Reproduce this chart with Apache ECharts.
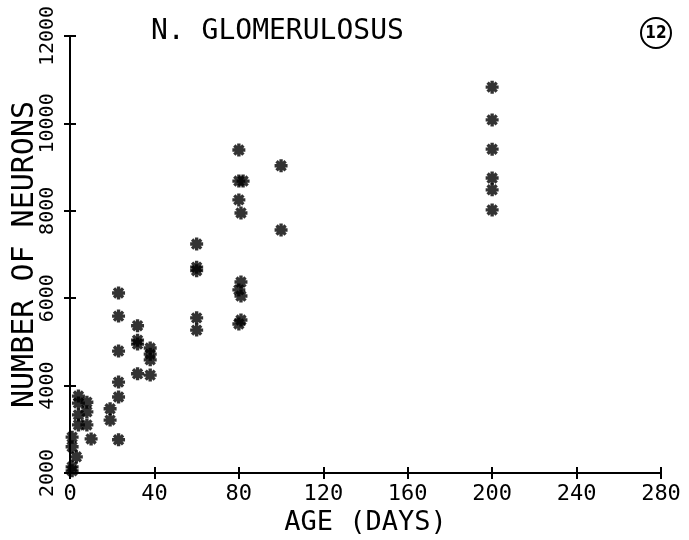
<!DOCTYPE html>
<html>
<head>
<meta charset="utf-8">
<title>N. Glomerulosus</title>
<script src="https://cdn.jsdelivr.net/npm/echarts@6/dist/echarts.min.js"></script>
<style>
    html, body { margin: 0; padding: 0; background: #fff; }
    #neurons_scatter { width: 689px; height: 540px; }
</style>
</head>
<body>
<div id="neurons_scatter"></div>
<script>
// Data
// ------------------------------

var ageDays = [
    1, 1, 1, 1, 3, 4, 4, 4, 4, 8, 8, 8, 10,
    19, 19,
    23, 23, 23, 23, 23, 23,
    32, 32, 32, 32,
    38, 38, 38, 38,
    60, 60, 60, 60, 60,
    80, 80, 82, 80, 81, 81, 80, 81, 81, 80,
    100, 100,
    200, 200, 200, 200, 200, 200
];

var neuronCount = [
    2820, 2600, 2140, 2050, 2370, 3760, 3600, 3330, 3100, 3620, 3400, 3100, 2780,
    3470, 3210,
    6120, 5590, 4790, 4080, 3740, 2760,
    5370, 5040, 4950, 4270,
    4860, 4720, 4590, 4240,
    7240, 6710, 6630, 5550, 5270,
    9390, 8680, 8680, 8250, 7950, 6370, 6190, 6050, 5500, 5410,
    9030, 7560,
    10830, 10080, 9410, 8750, 8480, 8020
];

var xTicks = [0, 40, 80, 120, 160, 200, 240, 280];
var yTicks = [2000, 4000, 6000, 8000, 10000, 12000];


var EchartsNeuronScatter = function() {

    // Asterisk marker, four filled bars
    var asterisk = 'path://M-5,-1.3L5,-1.3L5,1.3L-5,1.3Z' +
        'M-1.3,-5L1.3,-5L1.3,5L-1.3,5Z' +
        'M-2.6,-4.4L4.4,2.6L2.6,4.4L-4.4,-2.6Z' +
        'M-4.4,2.6L2.6,-4.4L4.4,-2.6L-2.6,4.4Z';

    var _scatter = function() {
        if (typeof echarts == 'undefined') {
            console.warn('Warning - echarts.min.js is not loaded.');
            return;
        }

        var scatter_element = document.getElementById('neurons_scatter');
        if (!scatter_element) return;

        var chart = echarts.init(scatter_element);

        var points = ageDays.map(function(a, i) {
            return [a, neuronCount[i]];
        });

        var font = '"DejaVu Sans Mono", monospace';
        var black = '#000';

        chart.setOption({
            animation: false,
            backgroundColor: '#fff',

            textStyle: {
                fontFamily: font,
                color: black
            },

            title: {
                text: 'N. GLOMERULOSUS',
                left: 151,
                top: 18,
                padding: 0,
                textStyle: {
                    fontFamily: font,
                    fontSize: 28,
                    fontWeight: 'normal',
                    color: black
                }
            },

            // Fixed plot box, no auto shrinking for labels
            grid: {
                left: 70,
                right: 28,
                top: 36,
                bottom: 67,
                containLabel: false,
                outerBoundsMode: 'none'
            },

            xAxis: [{
                type: 'value',
                min: xTicks[0],
                max: xTicks[xTicks.length - 1],
                interval: xTicks[1] - xTicks[0],
                name: 'AGE (DAYS)',
                nameLocation: 'middle',
                nameGap: 36,
                nameMoveOverlap: false,
                nameTextStyle: {
                    fontFamily: font,
                    fontSize: 27,
                    color: black
                },
                axisLine: {
                    lineStyle: { color: black, width: 2 }
                },
                axisTick: {
                    length: 6,
                    lineStyle: { color: black, width: 2 }
                },
                axisLabel: {
                    margin: 10,
                    fontFamily: font,
                    fontSize: 22,
                    color: black
                },
                splitLine: { show: false }
            }, {
                type: 'value',
                position: 'bottom',
                min: xTicks[0],
                max: xTicks[xTicks.length - 1],
                interval: xTicks[1] - xTicks[0],
                axisLine: { show: false },
                axisLabel: { show: false },
                axisTick: {
                    inside: true,
                    length: 6,
                    lineStyle: { color: black, width: 2 }
                },
                splitLine: { show: false }
            }],

            yAxis: [{
                type: 'value',
                min: yTicks[0],
                max: yTicks[yTicks.length - 1],
                interval: yTicks[1] - yTicks[0],
                name: 'NUMBER OF NEURONS',
                nameLocation: 'middle',
                nameGap: 30,
                nameMoveOverlap: false,
                nameTextStyle: {
                    fontFamily: font,
                    fontSize: 30,
                    color: black
                },
                axisLine: {
                    lineStyle: { color: black, width: 2 }
                },
                axisTick: {
                    length: 6,
                    lineStyle: { color: black, width: 2 }
                },
                axisLabel: {
                    rotate: 90,
                    margin: 12,
                    fontFamily: font,
                    fontSize: 20,
                    color: black,
                    formatter: function(v) {
                        return String(v);
                    }
                },
                splitLine: { show: false }
            }, {
                type: 'value',
                position: 'left',
                min: yTicks[0],
                max: yTicks[yTicks.length - 1],
                interval: yTicks[1] - yTicks[0],
                axisLine: { show: false },
                axisLabel: { show: false },
                axisTick: {
                    inside: true,
                    length: 6,
                    lineStyle: { color: black, width: 2 }
                },
                splitLine: { show: false }
            }],

            // Circled panel number
            graphic: [{
                type: 'circle',
                shape: { cx: 656, cy: 33, r: 15 },
                style: { fill: 'none', stroke: black, lineWidth: 2 }
            }, {
                type: 'text',
                x: 656,
                y: 34,
                style: {
                    text: '12',
                    fontFamily: '"DejaVu Sans Condensed", "DejaVu Sans", sans-serif',
                    fontWeight: 'bold',
                    fontSize: 17,
                    fill: black,
                    align: 'center',
                    verticalAlign: 'middle'
                }
            }],

            series: [{
                type: 'scatter',
                xAxisIndex: 0,
                yAxisIndex: 0,
                symbol: asterisk,
                symbolSize: 13,
                itemStyle: { color: black },
                data: points
            }]
        });
    };

    return {
        init: function() {
            _scatter();
        }
    }
}();

document.addEventListener('DOMContentLoaded', function() {
    EchartsNeuronScatter.init();
});
</script>
</body>
</html>
